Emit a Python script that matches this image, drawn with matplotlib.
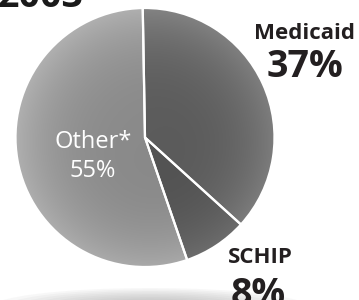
import numpy as np
import matplotlib.pyplot as plt
from matplotlib.patches import Ellipse

# data
labels = ['Medicaid', 'SCHIP', 'Other*']
shares = [37, 8, 55]
year = '2003'

# base grey level of each slice (0-255) and its lighter rim level
base_grey = [92, 84, 138]
rim_grey = [128, 112, 172]

W, H = 359, 300
fig = plt.figure(figsize=(W / 100, H / 100), dpi=100)
ax = fig.add_axes([0, 0, 1, 1])

cx, cy, r = 145, H - 137.5, 129.5

wedges, _ = ax.pie(shares, startangle=91, counterclock=False,
                   center=(cx, cy), radius=r, colors=['none'] * 3,
                   wedgeprops=dict(edgecolor='white', linewidth=1.6))

# shaded fill for every slice, clipped to the wedge
xs = np.linspace(-1, 1, 300)
u, v = np.meshgrid(xs, xs[::-1])
rho = np.clip(np.sqrt(u ** 2 + v ** 2), 0, 1)
tilt = (-u + v) * 0.5
for w, b, rg in zip(wedges, base_grey, rim_grey):
    g = b + (rg - b) * rho ** 3 + 6 * tilt
    g = np.clip(g, 0, 255) / 255
    img = np.dstack([g, g, g])
    im = ax.imshow(img, extent=[cx - r, cx + r, cy - r, cy + r],
                   zorder=0.5, interpolation='bilinear')
    im.set_clip_path(w)
    w.set_zorder(2)

# soft shadow under the ball
for i in range(12):
    f = 1 - i / 12
    ax.add_patch(Ellipse((150, H - 308), 300 * f + 20, 36 * f + 4,
                         color='#9a9a9a', alpha=0.07, lw=0, zorder=0.2))

fam = ['Open Sans', 'DejaVu Sans']
ax.text(-2, H - 7, year, fontsize=27, fontweight='bold', color='#1a1a1a',
        family=fam, ha='left', va='baseline')
ax.text(305, H - 39, labels[0], fontsize=16, fontweight='bold',
        color='#231f20', family=fam, ha='center', va='baseline')
ax.text(305, H - 77, f'{shares[0]}%', fontsize=27, fontweight='bold',
        color='#231f20', family=fam, ha='center', va='baseline')
ax.text(260, H - 263, labels[1], fontsize=16, fontweight='bold',
        color='#231f20', family=fam, ha='center', va='baseline')
ax.text(258, H - 305, f'{shares[1]}%', fontsize=27, fontweight='bold',
        color='#231f20', family=fam, ha='center', va='baseline')
ax.text(93, H - 148, labels[2], fontsize=17, color='white',
        family=fam, ha='center', va='baseline')
ax.text(93, H - 177, f'{shares[2]}%', fontsize=17, color='white',
        family=fam, ha='center', va='baseline')

ax.set_xlim(0, W)
ax.set_ylim(0, H)
ax.set_aspect('auto')
ax.axis('off')

fig.savefig('out.png', dpi=100)
